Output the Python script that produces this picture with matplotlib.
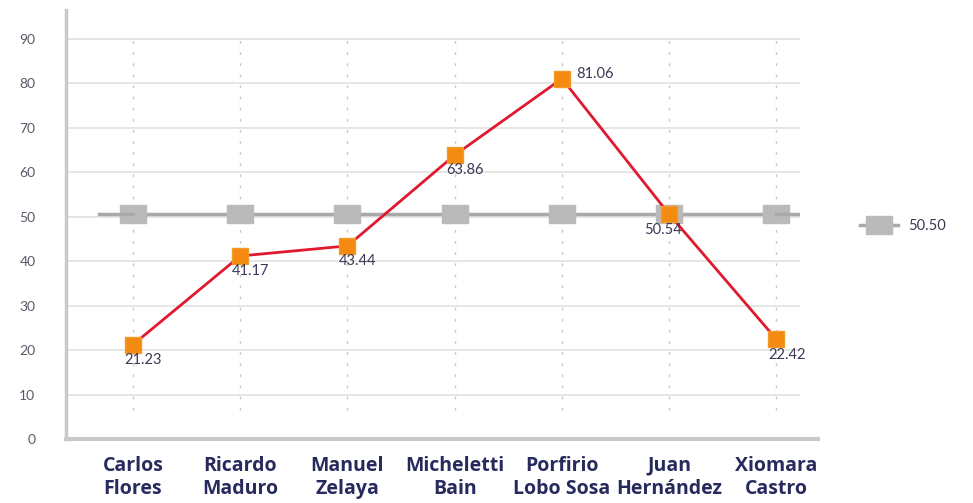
import matplotlib
matplotlib.use("Agg")
import matplotlib.pyplot as plt
from matplotlib.lines import Line2D

# datos
nombres = ["Carlos\nFlores", "Ricardo\nMaduro", "Manuel\nZelaya", "Micheletti\nBain",
           "Porfirio\nLobo Sosa", "Juan\nHernández", "Xiomara\nCastro"]
valores = [21.23, 41.17, 43.44, 63.86, 81.06, 50.54, 22.42]
promedio = 50.50
yticks = [0, 10, 20, 30, 40, 50, 60, 70, 80, 90]

plt.rcParams['font.family'] = ['Lato', 'DejaVu Sans']

fig = plt.figure(figsize=(9.73, 5.03), dpi=100)
ax = fig.add_axes([66/973, 1-439/503, (800-66)/973, 429/503])

x = list(range(len(nombres)))
ax.set_xlim(-0.625, 6.22)
ax.set_ylim(0, 96.5)

# rejilla
for t in yticks[1:]:
    ax.axhline(t, color='#e2e2e2', lw=1.2, zorder=0)
ax.vlines(x, 6.5, 91.5, colors='#c8c8c8', linestyles=(0, (2, 6)), lw=1, zorder=0)

# marcador rectangular para la linea del promedio
rect = [(-1.45, -1), (1.45, -1), (1.45, 1), (-1.45, 1), (-1.45, -1)]
ax.plot(x, [promedio]*len(x), color='#a9a9a9', lw=2.5, marker=rect, markersize=19,
        markerfacecolor='#bababa', markeredgecolor='#bababa', zorder=2, label=f"{promedio:.2f}")
# la linea gris sobresale un poco a ambos lados
ax.plot([-0.32, 0], [promedio, promedio], color='#a9a9a9', lw=2.5, zorder=2)
ax.plot([6, 6.22], [promedio, promedio], color='#a9a9a9', lw=2.5, zorder=2)

ax.plot(x, valores, color='#e0192f', lw=2, marker='s', markersize=11,
        markerfacecolor='#f58a10', markeredgecolor='#f19a2a', zorder=3)

# etiquetas de datos
for i, v in enumerate(valores):
    if i == 4:
        off, ha, va = (10, 3), 'left', 'center'
    elif i == 5:
        off, ha, va = (-18, -6), 'left', 'top'
    else:
        off, ha, va = (-6, -6), 'left', 'top'
    ax.annotate(f"{v:.2f}", (i, v), xytext=off, textcoords='offset points',
                ha=ha, va=va, fontsize=10.5, color='#3a3a55', zorder=4)

ax.set_yticks(yticks)
ax.set_yticklabels([str(t) for t in yticks], fontsize=10, color='#5a5a6a')
ax.tick_params(axis='y', length=0, pad=22)
ax.set_xticks(x)
ax.set_xticklabels(nombres, fontsize=14, fontweight='bold', color='#272a5c',
                   linespacing=1.2, family=['Open Sans', 'DejaVu Sans'])
ax.tick_params(axis='x', length=0, pad=12)

for s in ['top', 'right', 'bottom']:
    ax.spines[s].set_visible(False)
ax.spines['left'].set_color('#c9c9c9')
ax.spines['left'].set_linewidth(2.5)
# eje inferior un poco mas largo que la rejilla
ax.add_line(Line2D([0, (818-66)/(800-66)], [0, 0], transform=ax.transAxes,
                   color='#c9c9c9', lw=3, clip_on=False))

leg = ax.legend(loc='center left', bbox_to_anchor=(853/973, 1-226/503), bbox_transform=fig.transFigure,
                frameon=False, fontsize=10.5, handlelength=2.6, handletextpad=0.7, borderpad=0)
for t in leg.get_texts():
    t.set_color('#3a3a55')

fig.savefig("out.png", dpi=100)
